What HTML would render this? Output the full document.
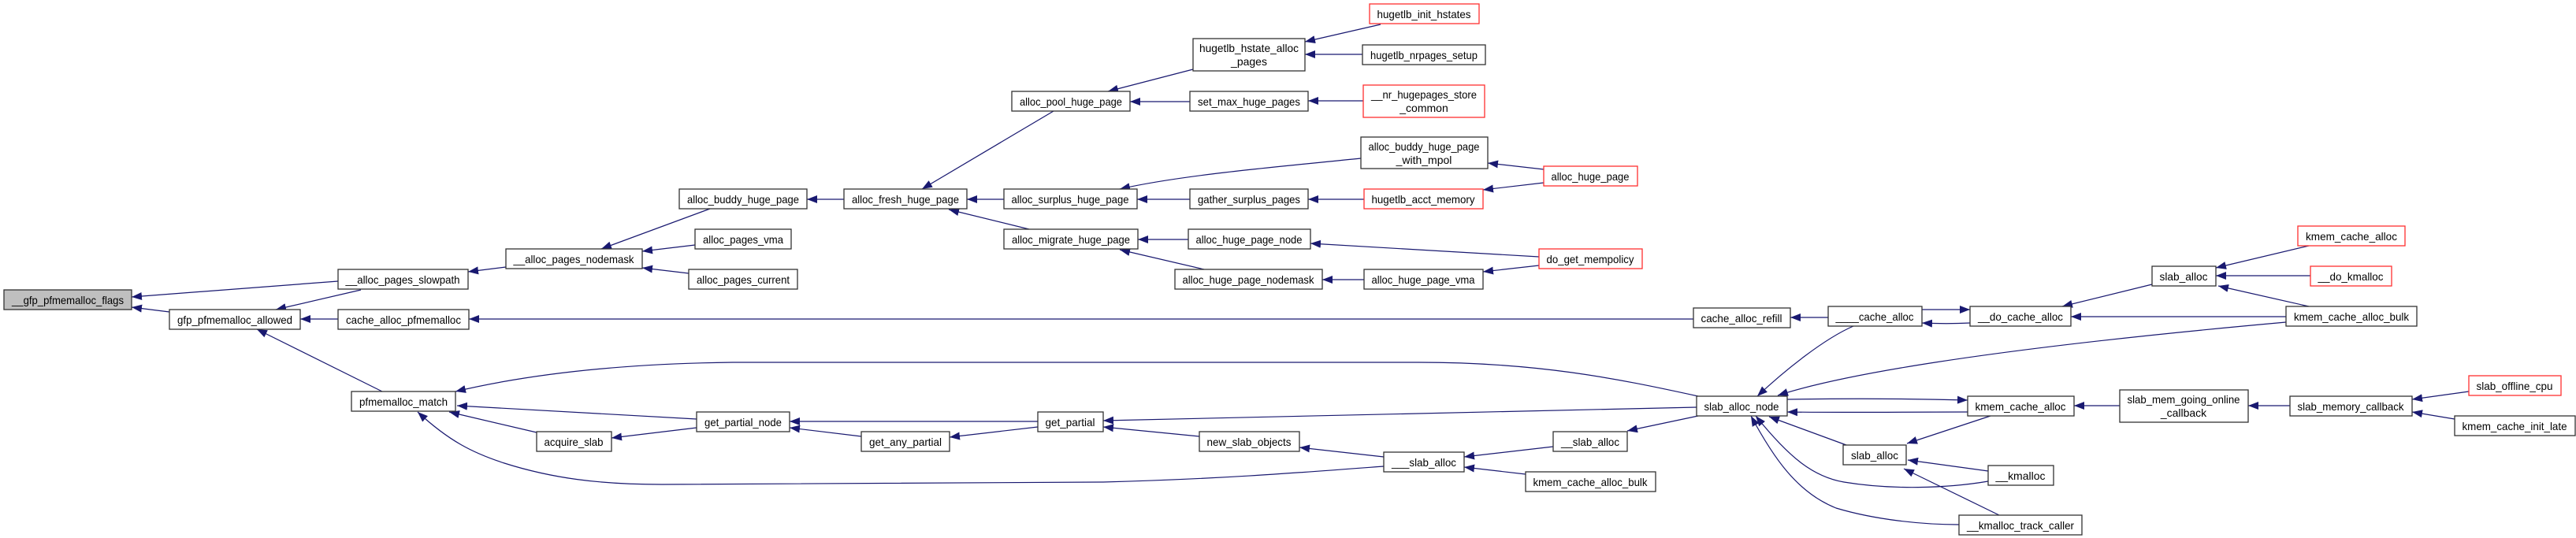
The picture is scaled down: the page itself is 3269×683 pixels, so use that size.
<!DOCTYPE html>
<html><head><meta charset="utf-8"><style>
html,body{margin:0;padding:0;background:#fff;}
svg{display:block;}
text{font-family:"Liberation Sans",sans-serif;font-size:14px;fill:#000;text-anchor:middle;}
.n{fill:#fff;stroke:#333;stroke-width:1.3;}
.r{fill:#fff;stroke:#ff3030;stroke-width:1.3;}
.g{fill:#bfbfbf;stroke:#333;stroke-width:1.3;}
.e{fill:none;stroke:#191970;stroke-width:1.2;marker-start:url(#a);}
</style></head><body>
<svg width="3269" height="683" viewBox="0 0 3269 683" xmlns="http://www.w3.org/2000/svg">
<defs><marker id="a" markerUnits="userSpaceOnUse" markerWidth="15" markerHeight="12" refX="13" refY="5" orient="auto-start-reverse" viewBox="0 0 15 10"><path d="M0,0 L13,5 L0,10 Z" fill="#191970"/></marker></defs>
<g>
<path class="e" d="M167,377 L429,357"/>
<path class="e" d="M167,390 L215,396"/>
<path class="e" d="M350,393 L458,368"/>
<path class="e" d="M381,405 L429,405"/>
<path class="e" d="M326,418 L485,497"/>
<path class="e" d="M594,345 L642,339"/>
<path class="e" d="M763,316 L901,265"/>
<path class="e" d="M815,319 L882,311"/>
<path class="e" d="M815,340 L874,347"/>
<path class="e" d="M1024,253 L1071,253"/>
<path class="e" d="M1170,240 L1337,141"/>
<path class="e" d="M1227,253 L1274,253"/>
<path class="e" d="M1204,266 L1306,291"/>
<path class="e" d="M1406,116 L1514,88"/>
<path class="e" d="M1434,129 L1510,129"/>
<path class="e" d="M1656,53 L1752,31"/>
<path class="e" d="M1656,69 L1729,69"/>
<path class="e" d="M1660,128 L1730,128"/>
<path class="e" d="M1421,240 C1500,222 1620,212 1727,201"/>
<path class="e" d="M1443,253 L1510,253"/>
<path class="e" d="M1660,253 L1731,253"/>
<path class="e" d="M1888,207 L1959,215"/>
<path class="e" d="M1882,241 L1959,232"/>
<path class="e" d="M1444,304 L1508,304"/>
<path class="e" d="M1421,317 L1528,342"/>
<path class="e" d="M1663,309 L1953,326"/>
<path class="e" d="M1678,355 L1731,355"/>
<path class="e" d="M1882,345 L1953,337"/>
<path class="e" d="M595,405 L2149,405"/>
<path class="e" d="M2272,403 L2320,403"/>
<path class="e" d="M2230,503 C2265,470 2315,430 2352,414"/>
<path class="e" d="M2500,393 L2439,393"/>
<path class="e" d="M2439,410 C2460,411 2480,411 2500,410"/>
<path class="e" d="M2617,389 L2731,361"/>
<path class="e" d="M2628,402 L2901,402"/>
<path class="e" d="M2812,340 L2930,312"/>
<path class="e" d="M2812,350 L2932,350"/>
<path class="e" d="M2815,363 L2930,389"/>
<path class="e" d="M2256,502 C2330,478 2500,445 2901,409"/>
<path class="e" d="M578,497 C650,480 760,462 930,460 L1800,460 C1950,460 2050,480 2155,503"/>
<path class="e" d="M580,515 L884,532"/>
<path class="e" d="M570,523 L681,549"/>
<path class="e" d="M530,523 C570,560 600,575 640,588 C700,607 760,615 840,615 L1400,612 C1550,608 1650,600 1756,592"/>
<path class="e" d="M776,556 L884,543"/>
<path class="e" d="M1002,535 L1317,535"/>
<path class="e" d="M1002,543 L1093,554"/>
<path class="e" d="M1205,555 L1317,542"/>
<path class="e" d="M1400,534 C1700,526 1950,520 2153,517"/>
<path class="e" d="M1400,542 L1522,554"/>
<path class="e" d="M1649,568 L1756,580"/>
<path class="e" d="M1858,580 L1971,567"/>
<path class="e" d="M1858,593 L1936,602"/>
<path class="e" d="M2065,547 L2155,528"/>
<path class="e" d="M2497,508 C2420,506 2330,506 2268,507"/>
<path class="e" d="M2268,523 C2330,524 2420,523 2497,523"/>
<path class="e" d="M2245,529 L2343,565"/>
<path class="e" d="M2420,563 L2526,528"/>
<path class="e" d="M2421,584 L2523,598"/>
<path class="e" d="M2416,595 L2537,654"/>
<path class="e" d="M2228,528 C2270,580 2300,605 2340,612 C2400,622 2470,620 2523,611"/>
<path class="e" d="M2222,528 C2250,580 2280,625 2330,645 C2380,660 2440,666 2486,666"/>
<path class="e" d="M2632,515 L2690,515"/>
<path class="e" d="M2853,515 L2906,515"/>
<path class="e" d="M3061,507 L3133,497"/>
<path class="e" d="M3061,523 L3115,532"/>
</g>
<g lengthAdjust="spacingAndGlyphs">
<rect class="g" x="5" y="368" width="162" height="25"/><text x="86" y="386" textLength="142" lengthAdjust="spacingAndGlyphs">__gfp_pfmemalloc_flags</text>
<rect class="n" x="215" y="393" width="166" height="25"/><text x="298" y="411" textLength="146" lengthAdjust="spacingAndGlyphs">gfp_pfmemalloc_allowed</text>
<rect class="n" x="429" y="342" width="165" height="25"/><text x="511" y="360" textLength="145" lengthAdjust="spacingAndGlyphs">__alloc_pages_slowpath</text>
<rect class="n" x="429" y="393" width="166" height="25"/><text x="512" y="411" textLength="146" lengthAdjust="spacingAndGlyphs">cache_alloc_pfmemalloc</text>
<rect class="n" x="642" y="316" width="173" height="25"/><text x="728" y="334" textLength="153" lengthAdjust="spacingAndGlyphs">__alloc_pages_nodemask</text>
<rect class="n" x="446" y="497" width="132" height="25"/><text x="512" y="515" textLength="112" lengthAdjust="spacingAndGlyphs">pfmemalloc_match</text>
<rect class="n" x="681" y="548" width="95" height="25"/><text x="728" y="566" textLength="75" lengthAdjust="spacingAndGlyphs">acquire_slab</text>
<rect class="n" x="1514" y="49" width="142" height="41"/><text x="1585" y="66" textLength="126" lengthAdjust="spacingAndGlyphs">hugetlb_hstate_alloc</text><text x="1585" y="83">_pages</text>
<rect class="n" x="1284" y="116" width="150" height="25"/><text x="1359" y="134" textLength="130" lengthAdjust="spacingAndGlyphs">alloc_pool_huge_page</text>
<rect class="n" x="1510" y="116" width="150" height="25"/><text x="1585" y="134" textLength="130" lengthAdjust="spacingAndGlyphs">set_max_huge_pages</text>
<rect class="n" x="862" y="240" width="162" height="25"/><text x="943" y="258" textLength="142" lengthAdjust="spacingAndGlyphs">alloc_buddy_huge_page</text>
<rect class="n" x="1071" y="240" width="156" height="25"/><text x="1149" y="258" textLength="136" lengthAdjust="spacingAndGlyphs">alloc_fresh_huge_page</text>
<rect class="n" x="1274" y="240" width="169" height="25"/><text x="1358" y="258" textLength="149" lengthAdjust="spacingAndGlyphs">alloc_surplus_huge_page</text>
<rect class="n" x="1510" y="240" width="150" height="25"/><text x="1585" y="258" textLength="130" lengthAdjust="spacingAndGlyphs">gather_surplus_pages</text>
<rect class="n" x="882" y="291" width="122" height="25"/><text x="943" y="309" textLength="102" lengthAdjust="spacingAndGlyphs">alloc_pages_vma</text>
<rect class="n" x="874" y="342" width="138" height="25"/><text x="943" y="360" textLength="118" lengthAdjust="spacingAndGlyphs">alloc_pages_current</text>
<rect class="n" x="1274" y="291" width="170" height="25"/><text x="1359" y="309" textLength="150" lengthAdjust="spacingAndGlyphs">alloc_migrate_huge_page</text>
<rect class="n" x="1508" y="291" width="155" height="25"/><text x="1585" y="309" textLength="135" lengthAdjust="spacingAndGlyphs">alloc_huge_page_node</text>
<rect class="n" x="1491" y="342" width="187" height="25"/><text x="1584" y="360" textLength="167" lengthAdjust="spacingAndGlyphs">alloc_huge_page_nodemask</text>
<rect class="n" x="884" y="523" width="118" height="25"/><text x="943" y="541" textLength="98" lengthAdjust="spacingAndGlyphs">get_partial_node</text>
<rect class="n" x="1093" y="548" width="112" height="25"/><text x="1149" y="566" textLength="92" lengthAdjust="spacingAndGlyphs">get_any_partial</text>
<rect class="n" x="1317" y="523" width="83" height="25"/><text x="1358" y="541" textLength="63" lengthAdjust="spacingAndGlyphs">get_partial</text>
<rect class="n" x="1522" y="548" width="127" height="25"/><text x="1585" y="566" textLength="107" lengthAdjust="spacingAndGlyphs">new_slab_objects</text>
<rect class="r" x="1738" y="5" width="139" height="25"/><text x="1807" y="23" textLength="119" lengthAdjust="spacingAndGlyphs">hugetlb_init_hstates</text>
<rect class="n" x="1729" y="57" width="156" height="25"/><text x="1807" y="75" textLength="136" lengthAdjust="spacingAndGlyphs">hugetlb_nrpages_setup</text>
<rect class="r" x="1730" y="108" width="154" height="41"/><text x="1807" y="125" textLength="134" lengthAdjust="spacingAndGlyphs">__nr_hugepages_store</text><text x="1807" y="142">_common</text>
<rect class="n" x="1727" y="174" width="161" height="40"/><text x="1807" y="191" textLength="141" lengthAdjust="spacingAndGlyphs">alloc_buddy_huge_page</text><text x="1807" y="208">_with_mpol</text>
<rect class="r" x="1959" y="211" width="119" height="25"/><text x="2018" y="229" textLength="99" lengthAdjust="spacingAndGlyphs">alloc_huge_page</text>
<rect class="r" x="1731" y="240" width="151" height="25"/><text x="1806" y="258" textLength="131" lengthAdjust="spacingAndGlyphs">hugetlb_acct_memory</text>
<rect class="r" x="1953" y="316" width="131" height="25"/><text x="2018" y="334" textLength="111" lengthAdjust="spacingAndGlyphs">do_get_mempolicy</text>
<rect class="n" x="1731" y="342" width="151" height="25"/><text x="1806" y="360" textLength="131" lengthAdjust="spacingAndGlyphs">alloc_huge_page_vma</text>
<rect class="n" x="2149" y="391" width="123" height="25"/><text x="2210" y="409" textLength="103" lengthAdjust="spacingAndGlyphs">cache_alloc_refill</text>
<rect class="n" x="2320" y="389" width="119" height="25"/><text x="2379" y="407" textLength="99" lengthAdjust="spacingAndGlyphs">____cache_alloc</text>
<rect class="n" x="2153" y="503" width="115" height="25"/><text x="2210" y="521" textLength="95" lengthAdjust="spacingAndGlyphs">slab_alloc_node</text>
<rect class="n" x="1971" y="548" width="94" height="25"/><text x="2018" y="566" textLength="74" lengthAdjust="spacingAndGlyphs">__slab_alloc</text>
<rect class="n" x="1756" y="574" width="102" height="25"/><text x="1807" y="592" textLength="82" lengthAdjust="spacingAndGlyphs">___slab_alloc</text>
<rect class="n" x="1936" y="599" width="165" height="25"/><text x="2018" y="617" textLength="145" lengthAdjust="spacingAndGlyphs">kmem_cache_alloc_bulk</text>
<rect class="n" x="2339" y="565" width="80" height="25"/><text x="2379" y="583" textLength="60" lengthAdjust="spacingAndGlyphs">slab_alloc</text>
<rect class="n" x="2500" y="389" width="128" height="25"/><text x="2564" y="407" textLength="108" lengthAdjust="spacingAndGlyphs">__do_cache_alloc</text>
<rect class="n" x="2731" y="338" width="81" height="25"/><text x="2771" y="356" textLength="61" lengthAdjust="spacingAndGlyphs">slab_alloc</text>
<rect class="r" x="2916" y="287" width="136" height="25"/><text x="2984" y="305" textLength="116" lengthAdjust="spacingAndGlyphs">kmem_cache_alloc</text>
<rect class="r" x="2932" y="338" width="103" height="25"/><text x="2983" y="356" textLength="83" lengthAdjust="spacingAndGlyphs">__do_kmalloc</text>
<rect class="n" x="2901" y="389" width="166" height="25"/><text x="2984" y="407" textLength="146" lengthAdjust="spacingAndGlyphs">kmem_cache_alloc_bulk</text>
<rect class="n" x="2497" y="503" width="135" height="25"/><text x="2564" y="521" textLength="115" lengthAdjust="spacingAndGlyphs">kmem_cache_alloc</text>
<rect class="n" x="2690" y="495" width="163" height="41"/><text x="2771" y="512" textLength="143" lengthAdjust="spacingAndGlyphs">slab_mem_going_online</text><text x="2771" y="529">_callback</text>
<rect class="n" x="2906" y="503" width="155" height="25"/><text x="2983" y="521" textLength="135" lengthAdjust="spacingAndGlyphs">slab_memory_callback</text>
<rect class="r" x="3133" y="477" width="117" height="25"/><text x="3191" y="495" textLength="97" lengthAdjust="spacingAndGlyphs">slab_offline_cpu</text>
<rect class="n" x="3115" y="528" width="153" height="25"/><text x="3191" y="546" textLength="133" lengthAdjust="spacingAndGlyphs">kmem_cache_init_late</text>
<rect class="n" x="2523" y="591" width="83" height="25"/><text x="2564" y="609" textLength="63" lengthAdjust="spacingAndGlyphs">__kmalloc</text>
<rect class="n" x="2486" y="654" width="156" height="25"/><text x="2564" y="672" textLength="136" lengthAdjust="spacingAndGlyphs">__kmalloc_track_caller</text>
</g>
</svg>
</body></html>
